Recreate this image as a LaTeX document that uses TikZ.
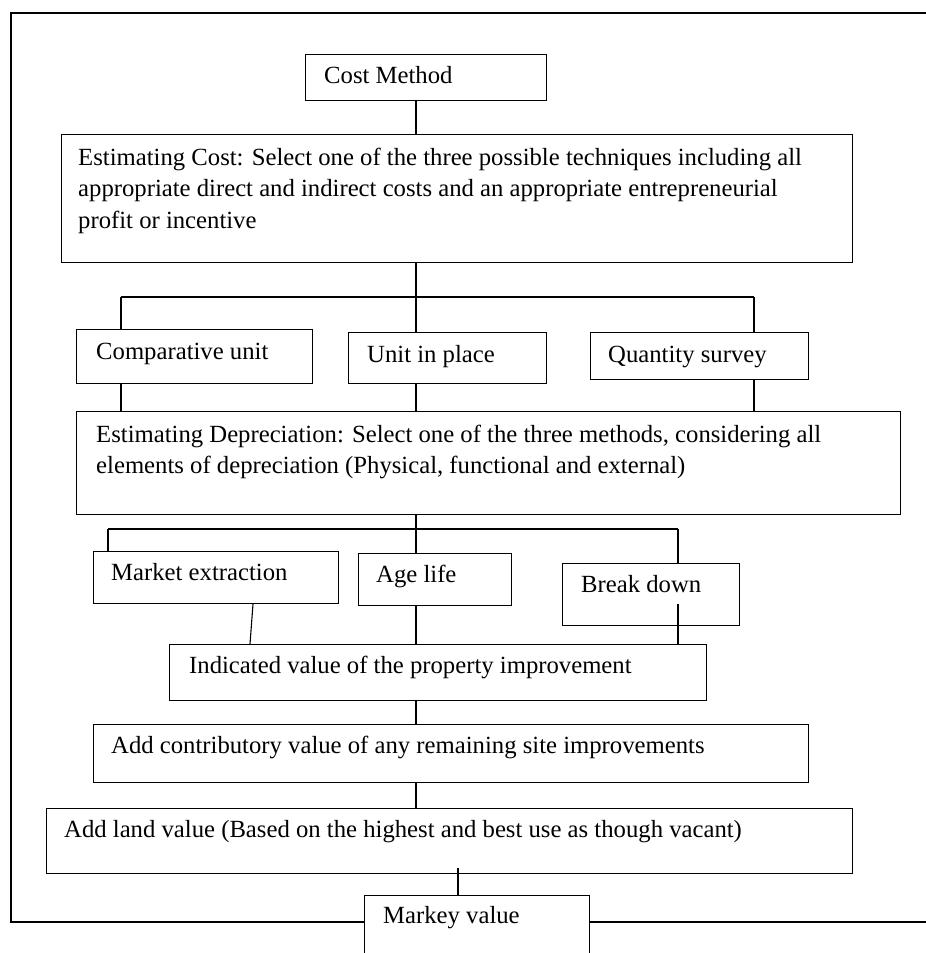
\documentclass[tikz,border=0pt]{standalone}
\usepackage{fontspec}
\setmainfont{Liberation Serif}
\begin{document}
\begin{tikzpicture}[x=1pt,y=-1pt,
  box/.style={draw,line width=1.1pt,inner sep=0pt,anchor=north west},
  txt/.style={inner sep=0pt,anchor=base west,font=\fontsize{24.7}{31.5}\selectfont},
  link/.style={line width=1.1pt}]
\useasboundingbox (0,0) rectangle (926,953);
\clip (0,0) rectangle (926,953);
\newcommand\mkbox[5]{\node[box,minimum width=#4pt-#2pt,minimum height=#5pt-#3pt] (#1) at (#2,#3) {};}
\newcommand\mktxt[4]{\node[txt] (#1) at (#2,#3) {\parbox[t]{900pt}{#4}};}
% boxes
\mkbox{cm}{305}{54}{546}{100}
\mkbox{ec}{61}{134}{852}{262}
\mkbox{cu}{76}{329}{312}{383}
\mkbox{up}{348}{332}{546}{383}
\mkbox{qs}{590}{332}{808}{379}
\mkbox{ed}{76}{411}{900}{514}
\mkbox{me}{93}{551}{338}{603}
\mkbox{al}{358}{553}{511}{605}
\mkbox{bd}{562}{563}{739}{625}
\mkbox{iv}{169}{644}{706}{700}
\mkbox{ac}{93}{724}{808}{782}
\mkbox{lv}{46}{808}{852}{873}
\mkbox{mv}{364}{895}{589}{970}
% texts
\mktxt{tcm}{324}{83}{Cost Method}
\mktxt{tec}{78}{165}{Estimating Cost: Select one of the three possible techniques including all\\appropriate direct and indirect costs and an appropriate entrepreneurial\\profit or incentive}
\mktxt{tcu}{96}{359}{Comparative unit}
\mktxt{tup}{367}{362}{Unit in place}
\mktxt{tqs}{608}{362}{Quantity survey}
\mktxt{ted}{96}{442}{Estimating Depreciation: Select one of the three methods, considering all\\elements of depreciation (Physical, functional and external)}
\mktxt{tme}{111}{580}{Market extraction}
\mktxt{tal}{376}{582}{Age life}
\mktxt{tbd}{581}{592}{Break down}
\mktxt{tiv}{189}{673}{Indicated value of the property improvement}
\mktxt{tac}{111}{753}{Add contributory value of any remaining site improvements}
\mktxt{tlv}{64}{837}{Add land value (Based on the highest and best use as though vacant)}
\mktxt{tmv}{383}{923}{Markey value}
% helper coordinates
\coordinate (xa) at (416,0);
\coordinate (b1) at (416,297);
\coordinate (b1l) at (121,297);
\coordinate (b1r) at (754,297);
\coordinate (b2) at (416,529);
\coordinate (b2l) at (108,529);
\coordinate (b2r) at (678,529);
\coordinate (m1) at (253,0);
\coordinate (m2) at (250,0);
\coordinate (bdx) at (678,604);
\coordinate (lvx) at (458,868);
\coordinate (ft) at (926,13);
\coordinate (fc) at (11,13);
\coordinate (fb) at (11,922);
\coordinate (fr) at (926,922);
% connectors
\draw[link] (cm.south -| xa) -- (ec.north -| xa);
\draw[link] (ec.south -| xa) -- (b1);
\draw[link] (b1l) -- (b1r);
\draw[link] (b1l) -- (cu.north -| b1l);
\draw[link] (b1) -- (up.north -| b1);
\draw[link] (b1r) -- (qs.north -| b1r);
\draw[link] (cu.south -| b1l) -- (ed.north -| b1l);
\draw[link] (up.south -| b1) -- (ed.north -| b1);
\draw[link] (qs.south -| b1r) -- (ed.north -| b1r);
\draw[link] (ed.south -| b2) -- (b2);
\draw[link] (b2l) -- (b2r);
\draw[link] (b2l) -- (me.north -| b2l);
\draw[link] (b2) -- (al.north -| b2);
\draw[link] (b2r) -- (bd.north -| b2r);
\draw[link] (me.south -| m1) -- (iv.north -| m2);
\draw[link] (al.south -| xa) -- (iv.north -| xa);
\draw[link] (bdx) -- (iv.north -| bdx);
\draw[link] (iv.south -| xa) -- (ac.north -| xa);
\draw[link] (ac.south -| xa) -- (lv.north -| xa);
\draw[link] (lvx) -- (mv.north -| lvx);
% outer frame
\draw[link] (ft) -- (fc) -- (fb) -- (fb -| mv.west);
\draw[link] (fr -| mv.east) -- (fr);
\end{tikzpicture}
\end{document}
